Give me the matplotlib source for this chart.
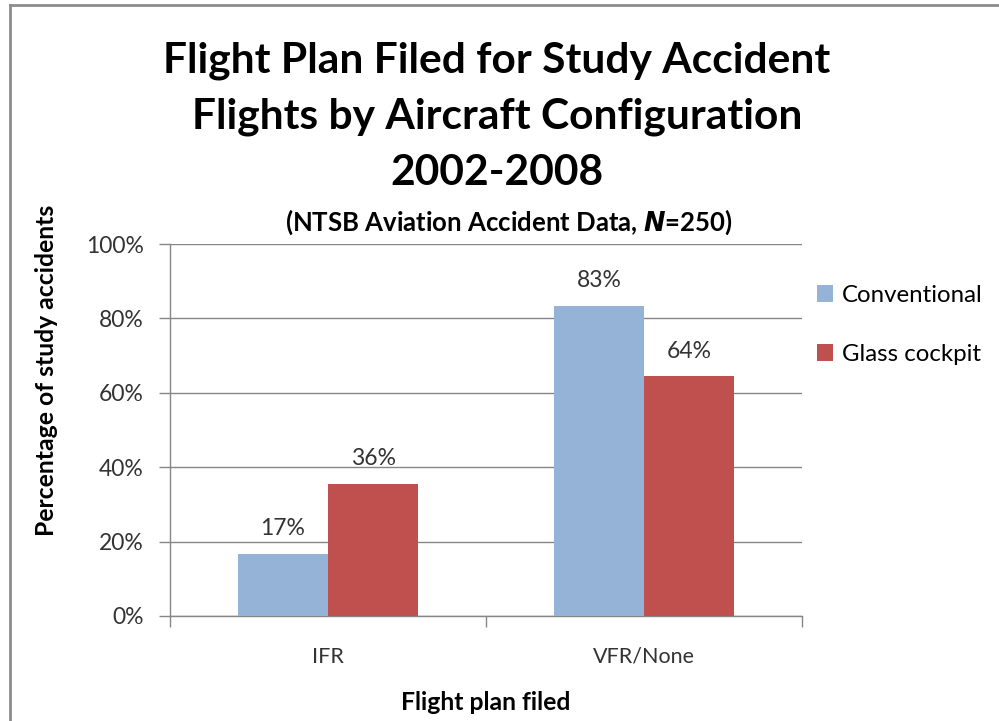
import matplotlib
matplotlib.use("Agg")
import matplotlib.pyplot as plt
from matplotlib.patches import Patch

plt.rcParams['font.family'] = ['Lato', 'DejaVu Sans']

# data
categories = ["IFR", "VFR/None"]
series_names = ["Conventional", "Glass cockpit"]
conventional = [16.7, 83.3]
glass_cockpit = [35.6, 64.4]
colors = ["#95B3D7", "#C0504D"]

W, H = 999, 721
fig = plt.figure(figsize=(W / 100, H / 100), dpi=100)

def fx(px):
    return px / W

def fy(py):
    return 1 - py / H

ax = fig.add_axes([fx(170), fy(616), fx(802) - fx(170), fy(244) - fy(616)])

x = list(range(len(categories)))
width = 0.285
for i, (vals, name, c) in enumerate(zip([conventional, glass_cockpit], series_names, colors)):
    pos = [p + (i - 0.5) * width for p in x]
    ax.bar(pos, vals, width, color=c, label=name, zorder=3)
    for p, v in zip(pos, vals):
        ax.text(p, v + 4, "%d%%" % round(v), ha="center", va="bottom",
                fontsize=16.5, color="#333333")

grid_col = "#868686"
ax.set_ylim(0, 100)
ax.set_xlim(-0.5, len(categories) - 0.5)
ax.set_yticks(range(0, 101, 20))
ax.set_yticklabels(["%d%%" % t for t in range(0, 101, 20)], fontsize=16.5, color="#333333")
ax.yaxis.grid(True, color=grid_col, linewidth=1, zorder=0)
ax.set_axisbelow(True)

# category labels between boundary ticks
ax.set_xticks([-0.5, 0.5, 1.5])
ax.set_xticklabels([])
ax.set_xticks(x, minor=True)
ax.set_xticklabels(categories, minor=True, fontsize=15.5, color="#333333")
ax.tick_params(axis="x", which="minor", length=0, pad=22)
ax.tick_params(axis="x", which="major", length=8, color=grid_col, width=1)
ax.tick_params(axis="y", length=8, color=grid_col, width=1, pad=11)

for s in ["top", "right"]:
    ax.spines[s].set_visible(False)
for s in ["left", "bottom"]:
    ax.spines[s].set_color(grid_col)
    ax.spines[s].set_linewidth(1)

# titles
title_lines = ["Flight Plan Filed for Study Accident",
               "Flights by Aircraft Configuration",
               "2002-2008"]
for line, base in zip(title_lines, [72, 128, 185]):
    fig.text(fx(497), fy(base), line, ha="center", va="baseline",
             fontsize=30.6, fontweight="bold", color="black")
fig.text(fx(509), fy(231), r"(NTSB Aviation Accident Data, $\mathbfit{N}$=250)",
         ha="center", va="baseline", fontsize=18.5, fontweight="bold", color="black")

fig.text(fx(47), fy(370), "Percentage of study accidents", rotation=90,
         ha="center", va="center", fontsize=17.8, fontweight="bold")
fig.text(fx(486), fy(703), "Flight plan filed", ha="center", va="center",
         fontsize=17.8, fontweight="bold")

handles = [Patch(facecolor=c, edgecolor="none") for c in colors]
fig.legend(handles, series_names, loc="upper left",
           bbox_to_anchor=(fx(807), fy(275)), frameon=False, fontsize=17.3,
           handlelength=0.7, handleheight=0.7, handletextpad=0.35,
           labelspacing=1.6, borderaxespad=0)

# chart border (only top and left visible in the crop)
fig.add_artist(plt.Line2D([fx(10), fx(10)], [0, fy(5)], color="#8c8c8c", linewidth=2))
fig.add_artist(plt.Line2D([fx(10), 1], [fy(5), fy(5)], color="#8c8c8c", linewidth=2))

fig.savefig("out.png", dpi=100)
